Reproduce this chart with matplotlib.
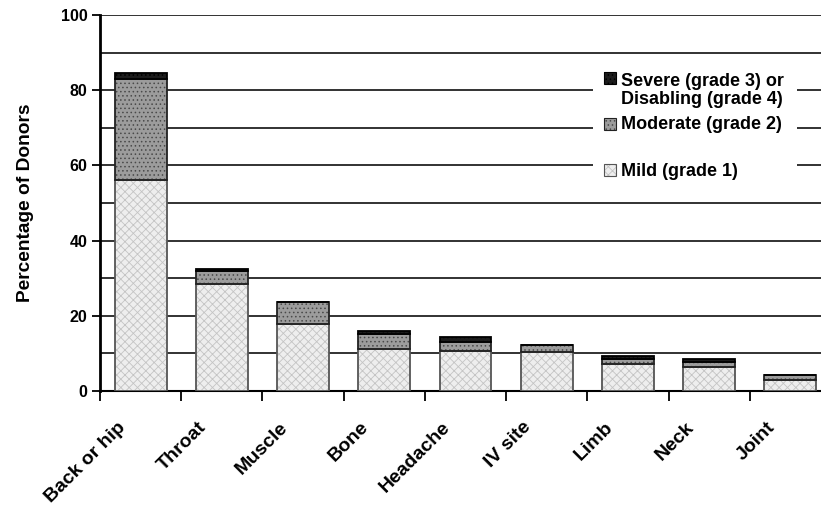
import numpy as np
import matplotlib.pyplot as plt
from matplotlib.patches import Rectangle
from matplotlib.transforms import ScaledTranslation

plt.rcParams['font.family'] = ['Liberation Sans', 'DejaVu Sans']
plt.rcParams['font.weight'] = 'bold'
plt.rcParams['hatch.linewidth'] = 0.6

# Datos (porcentaje de donantes)
categorias = ['Back or hip', 'Throat', 'Muscle', 'Bone', 'Headache',
              'IV site', 'Limb', 'Neck', 'Joint']
leve = [56.0, 28.4, 17.7, 11.1, 10.6, 10.5, 7.1, 6.5, 2.9]
moderado = [27.0, 3.5, 5.9, 4.1, 2.5, 1.7, 1.3, 1.1, 1.4]
severo = [1.5, 0.5, 0.0, 0.7, 1.3, 0.0, 0.9, 0.9, 0.0]
etiquetas = ['Severe (grade 3) or\nDisabling (grade 4)', 'Moderate (grade 2)', 'Mild (grade 1)']

# estilos: (relleno, trama, color de trama, borde)
estilos = [
    ('#eeeeee', 'xxxx', '#c4c4c4', '#555555'),
    ('#9c9c9c', '....', '#4a4a4a', '#222222'),
    ('#1c1c1c', '....', '#000000', '#000000'),
]

fig = plt.figure(figsize=(8.21, 5.13), dpi=100)
ax = fig.add_axes([100 / 821, 122 / 513, 731 / 821, 376 / 513])

x = np.arange(len(categorias))
ancho = 0.64
base = np.zeros(len(categorias))
for vals, (cara, trama, ctrama, borde) in zip([leve, moderado, severo], estilos):
    vals = np.array(vals)
    ax.bar(x, vals, bottom=base, width=ancho, color=cara, hatch=trama,
           edgecolor=ctrama, linewidth=0, zorder=3)
    ax.bar(x, vals, bottom=base, width=ancho, fill=False,
           edgecolor=borde, linewidth=1.3, zorder=4)
    base = base + vals

ax.set_xlim(-0.5, len(categorias) - 0.5)
ax.set_ylim(0, 100)

# ejes y cuadricula
ax.set_yticks(np.arange(0, 101, 20))
ax.set_yticks(np.arange(0, 101, 10), minor=True)
ax.yaxis.grid(True, which='both', color='#222222', linewidth=1.3)
ax.set_axisbelow(True)
ax.tick_params(axis='y', which='major', direction='out', length=6, width=1.3,
               labelsize=11.5, pad=3)
ax.tick_params(axis='y', which='minor', length=0)

ax.set_xticks(np.arange(-0.5, len(categorias), 1))
ax.set_xticklabels([])
ax.set_xticks(x, minor=True)
ax.set_xticklabels(categorias, minor=True, rotation=45, ha='right',
                   va='top', rotation_mode='anchor', fontsize=14)
ax.tick_params(axis='x', which='major', direction='out', length=7, width=1.3)
ax.tick_params(axis='x', which='minor', length=0, pad=20)
for lab in ax.get_xticklabels(minor=True):
    lab.set_transform(lab.get_transform() + ScaledTranslation(-0.24, 0, fig.dpi_scale_trans))

for s in ['top', 'right']:
    ax.spines[s].set_visible(False)
ax.spines['left'].set_linewidth(2)
ax.spines['bottom'].set_linewidth(1.5)

ax.set_ylabel('Percentage of Donors', fontsize=13.8, fontweight='bold')
ax.yaxis.set_label_coords(-66 / 731, 0.5)

# leyenda manual (caja blanca sobre la cuadricula)
def fx(px):
    return (px - 100) / 731

def fy(py):
    return (391 - py) / 376

ax.add_patch(Rectangle((fx(593), fy(199)), fx(797) - fx(593), fy(58) - fy(199),
                       transform=ax.transAxes, facecolor='white', edgecolor='none', zorder=2))
cuadros = [84, 130, 176]
bases_txt = [104, 129, 176]
for (cara, trama, ctrama, borde), cy, ty, txt in zip(estilos[::-1], cuadros, bases_txt, etiquetas):
    ax.add_patch(Rectangle((fx(604), fy(cy)), 12 / 731, 12 / 376, transform=ax.transAxes,
                           facecolor=cara, hatch=trama, edgecolor=ctrama, linewidth=0, zorder=5))
    ax.add_patch(Rectangle((fx(604), fy(cy)), 12 / 731, 12 / 376, transform=ax.transAxes,
                           fill=False, edgecolor=borde, linewidth=0.8, zorder=6))
    ax.text(fx(621), fy(ty), txt, transform=ax.transAxes, fontsize=13,
            va='baseline', ha='left', linespacing=1.05, zorder=6)

fig.savefig('out.png', dpi=100)
